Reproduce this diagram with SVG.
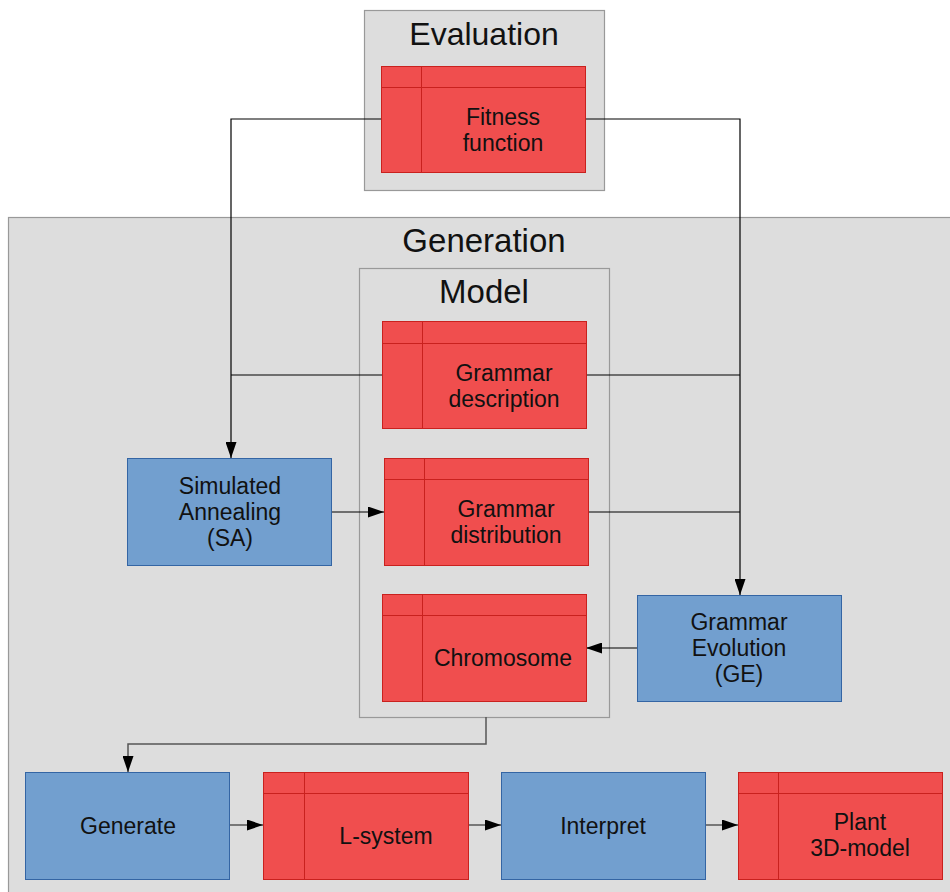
<svg xmlns="http://www.w3.org/2000/svg" width="950" height="892" viewBox="0 0 950 892">
<style>
text{font-family:"Liberation Sans",Arial,sans-serif;fill:#111;text-anchor:middle}
.grp{fill:#dddddd;stroke:#999;stroke-width:1.2}
.ttl{font-size:33px}
.red{fill:#f04e4e;stroke:#c9211e;stroke-width:1}
.rl{stroke:#c9211e;stroke-width:1;fill:none}
.blue{fill:#729fcf;stroke:#3465a4;stroke-width:1}
.lbl{font-size:23px}
.c{fill:none;stroke:#000;stroke-width:1.2}
.cg{fill:none;stroke:#555;stroke-width:1.5}
</style>
<defs>
<marker id="ah" viewBox="0 0 16 11" refX="16" refY="5.5" markerWidth="16" markerHeight="11" markerUnits="userSpaceOnUse" orient="auto">
<path d="M0,0 L16,5.5 L0,11 z" fill="#000"/>
</marker>
</defs>
<rect x="0" y="0" width="950" height="892" fill="#fff"/>
<g id="evaluation">
<rect class="grp" x="364.5" y="10.5" width="240" height="180"/>
<text class="ttl" x="484" y="45" style="font-size:32px">Evaluation</text>
</g>
<g id="generation">
<rect class="grp" x="8.5" y="217.5" width="945" height="680"/>
<text class="ttl" x="484" y="252">Generation</text>
</g>
<g id="model">
<rect class="grp" x="359.5" y="268.5" width="250" height="449"/>
<text class="ttl" x="484" y="303">Model</text>
</g>
<g id="connectors">
<path class="c" d="M381,119 H231 V458" marker-end="url(#ah)"/>
<path class="c" d="M382,375 H231"/>
<path class="c" d="M585,119 H740 V595" marker-end="url(#ah)"/>
<path class="c" d="M586,375 H740"/>
<path class="c" d="M588,512 H740"/>
<path class="c" d="M331,512 H384" marker-end="url(#ah)"/>
<path class="c" d="M637,648 H586" marker-end="url(#ah)"/>
<path class="cg" d="M486,717 V744 H128 V772" marker-end="url(#ah)"/>
<path class="cg" d="M229,825 H263" marker-end="url(#ah)"/>
<path class="cg" d="M468,825 H501" marker-end="url(#ah)"/>
<path class="cg" d="M705,825 H738" marker-end="url(#ah)"/>
</g>
<g id="fitness">
<rect class="red" x="381.5" y="66.5" width="204" height="106"/>
<path class="rl" d="M381.5,87.5 H585.5 M421.5,66.5 V172.5"/>
<text class="lbl" x="503" y="125">Fitness</text>
<text class="lbl" x="503" y="151">function</text>
</g>
<g id="grammar-description">
<rect class="red" x="382.5" y="321.5" width="204" height="107"/>
<path class="rl" d="M382.5,343.5 H586.5 M422.5,321.5 V428.5"/>
<text class="lbl" x="504" y="381">Grammar</text>
<text class="lbl" x="504" y="407">description</text>
</g>
<g id="grammar-distribution">
<rect class="red" x="384.5" y="458.5" width="204" height="107"/>
<path class="rl" d="M384.5,479.5 H588.5 M424.5,458.5 V565.5"/>
<text class="lbl" x="506" y="517">Grammar</text>
<text class="lbl" x="506" y="543">distribution</text>
</g>
<g id="chromosome">
<rect class="red" x="382.5" y="594.5" width="204" height="107"/>
<path class="rl" d="M382.5,615.5 H586.5 M422.5,594.5 V701.5"/>
<text class="lbl" x="503" y="666">Chromosome</text>
</g>
<g id="sa">
<rect class="blue" x="127.5" y="458.5" width="204" height="107"/>
<text class="lbl" x="230" y="494">Simulated</text>
<text class="lbl" x="230" y="520">Annealing</text>
<text class="lbl" x="230" y="546">(SA)</text>
</g>
<g id="ge">
<rect class="blue" x="637.5" y="595.5" width="204" height="106"/>
<text class="lbl" x="739" y="630">Grammar</text>
<text class="lbl" x="739" y="656">Evolution</text>
<text class="lbl" x="739" y="682">(GE)</text>
</g>
<g id="generate">
<rect class="blue" x="25.5" y="772.5" width="204" height="107"/>
<text class="lbl" x="128" y="834">Generate</text>
</g>
<g id="lsystem">
<rect class="red" x="263.5" y="772.5" width="205" height="107"/>
<path class="rl" d="M263.5,793.5 H468.5 M304.5,772.5 V879.5"/>
<text class="lbl" x="386" y="844">L-system</text>
</g>
<g id="interpret">
<rect class="blue" x="501.5" y="772.5" width="204" height="107"/>
<text class="lbl" x="603" y="834">Interpret</text>
</g>
<g id="plant">
<rect class="red" x="738.5" y="772.5" width="204" height="107"/>
<path class="rl" d="M738.5,793.5 H942.5 M778.5,772.5 V879.5"/>
<text class="lbl" x="860" y="830">Plant</text>
<text class="lbl" x="860" y="856">3D-model</text>
</g>
</svg>
